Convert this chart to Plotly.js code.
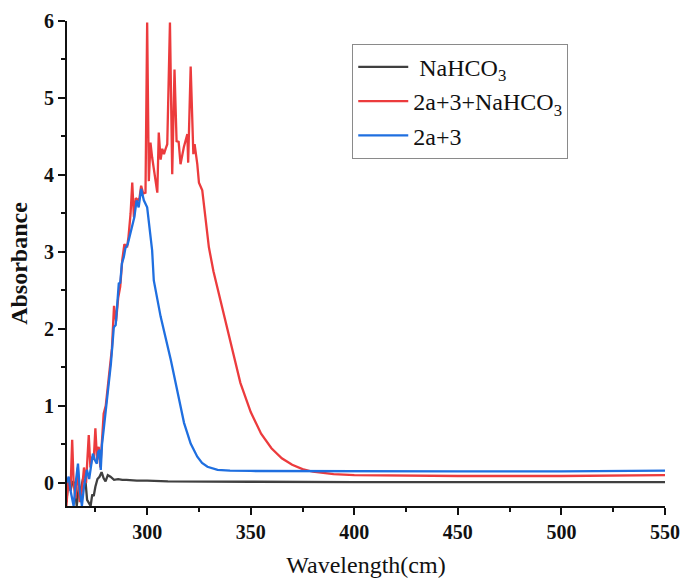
<!DOCTYPE html>
<html>
<head>
<meta charset="utf-8">
<script src="https://cdn.plot.ly/plotly-3.0.1.min.js"></script>
<style>html,body{margin:0;padding:0;background:#fff;}#chart{width:681px;height:578px;}</style>
</head>
<body>
<div id="chart"></div>
<script>
// NaHCO3
const wlBlack = [261,262,263,264,264.8,266,267,268,269,270.3,271,272.7,273.5,274.2,275,276,277,278,279,279.9,281,282.3,284,286,288,290,295,300,310,320,350,400,450,500,550];
const absBlack = [-0.25,0.05,-0.1,0.02,0.0,-0.3,-0.05,-0.09,0.05,0.0,-0.22,-0.3,-0.15,-0.17,-0.05,0.05,0.08,0.14,0.06,0.02,0.1,0.08,0.04,0.05,0.04,0.04,0.03,0.03,0.02,0.02,0.015,0.01,0.01,0.01,0.01];

// 2a+3+NaHCO3
const wlRed = [261,262,263,263.8,264.5,265.4,266.5,267.5,268.5,269.5,270.5,271.8,272.6,273.4,274.2,275,275.8,276.6,277.4,278.2,279,280,281,282,283,284,285,286,287,288,289,290.3,291,292,292.8,293.6,294.5,295.5,296.3,297.1,298.1,299.2,300,300.8,301.6,302.4,303.5,304.9,305.6,306.5,307.3,308.1,308.9,309.7,311,312.1,313.2,314.2,315.2,316.1,317.7,319.4,319.8,321,322.3,322.9,324.2,325,326.6,328.2,329.8,332,335,338,341,345,350,355,360,365,370,375,380,390,400,450,500,550];
const absRed = [-0.3,0.05,-0.1,0.56,0.0,-0.2,0.2,-0.25,-0.1,0.2,0.0,0.62,0.2,0.34,0.3,0.71,0.3,0.47,0.2,0.55,0.9,1.0,1.25,1.5,1.75,2.3,2.1,2.4,2.55,2.9,3.1,3.06,3.2,3.5,3.9,3.45,3.7,3.67,3.7,3.86,3.76,3.77,5.98,3.92,4.42,4.23,4.0,3.77,4.55,4.2,4.34,4.27,4.34,4.4,5.98,4.01,5.37,4.44,4.43,4.14,4.36,4.53,4.16,5.41,4.27,4.4,4.14,3.9,3.8,3.45,3.06,2.75,2.42,2.07,1.72,1.3,0.92,0.64,0.45,0.32,0.235,0.18,0.145,0.115,0.1,0.09,0.09,0.1];

// 2a+3
const wlBlue = [261,262.1,263,264.5,265.5,266.6,267.5,268.5,269.5,270.9,272,273.8,274.7,275.7,276.3,277,277.6,278.2,279,280,281.5,282.5,283.9,284.8,285.5,286.3,287,287.8,288.7,289.5,290.6,291.5,292.8,293.8,294.9,295.9,297.1,298.4,300,301.3,302.4,303.2,306.5,311.4,314.6,317.8,321,324.2,326.5,329.1,334,340,350,400,450,500,550];
const absBlue = [0.0,0.08,-0.1,-0.3,0.0,0.25,-0.1,-0.3,-0.05,0.17,0.05,0.38,0.3,0.25,0.4,0.43,0.17,0.5,0.69,0.95,1.29,1.55,2.02,2.05,2.3,2.59,2.6,2.85,2.93,3.05,3.1,3.2,3.32,3.45,3.67,3.58,3.82,3.67,3.58,3.28,3.02,2.63,2.16,1.6,1.21,0.78,0.51,0.34,0.26,0.21,0.17,0.16,0.155,0.15,0.15,0.15,0.16];

const xTicks = [300,350,400,450,500,550];
const yTicks = [0,1,2,3,4,5,6];

const serif = 'Liberation Serif, Times New Roman, serif';

const traces = [
  {x: wlBlack, y: absBlack, name: '&nbsp;NaHCO<sub>3</sub>', mode: 'lines', line: {color: '#404040', width: 2.3}},
  {x: wlRed, y: absRed, name: '2a+3+NaHCO<sub>3</sub>', mode: 'lines', line: {color: '#ec3b3d', width: 2.3}},
  {x: wlBlue, y: absBlue, name: '2a+3', mode: 'lines', line: {color: '#1f6fe0', width: 2.3}}
];

const layout = {
  width: 681, height: 578,
  margin: {l: 67, r: 16, t: 21, b: 72},
  paper_bgcolor: '#fff', plot_bgcolor: '#fff',
  showlegend: true,
  legend: {
    x: 0.477, y: 0.953, xanchor: 'left', yanchor: 'top',
    bordercolor: '#8a8a8a', borderwidth: 1, bgcolor: '#fff',
    font: {family: serif, size: 24, color: '#111'},
    itemwidth: 50, traceorder: 'normal'
  },
  xaxis: {
    range: [261.3, 550], tickvals: xTicks, ticktext: xTicks.map(v => '<b>' + v + '</b>'),
    ticks: 'outside', ticklen: 7, tickwidth: 2, tickcolor: '#111',
    showline: true, linecolor: '#111', linewidth: 2, mirror: false,
    showgrid: false, zeroline: false,
    tickfont: {family: serif, size: 20, color: '#111', weight: 'bold'},
    minor: {dtick: 25, tick0: 0, ticks: 'outside', ticklen: 4, tickwidth: 2, tickcolor: '#111', showgrid: false},
    title: {text: 'Wavelength(cm)', font: {family: serif, size: 24, color: '#111'}, standoff: 15}
  },
  yaxis: {
    range: [-0.3, 6], tickvals: yTicks, ticktext: yTicks.map(v => '<b>' + v + '</b>'),
    ticks: 'outside', ticklen: 7, tickwidth: 2, tickcolor: '#111',
    showline: true, linecolor: '#111', linewidth: 2, mirror: false,
    showgrid: false, zeroline: false,
    tickfont: {family: serif, size: 20, color: '#111', weight: 'bold'},
    minor: {dtick: 0.5, tick0: 0, ticks: 'outside', ticklen: 4, tickwidth: 2, tickcolor: '#111', showgrid: false},
    title: {text: '<b>Absorbance</b>', font: {family: serif, size: 24, color: '#111'}, standoff: 10}
  }
};

Plotly.newPlot('chart', traces, layout, {displayModeBar: false, staticPlot: true});
</script>
</body>
</html>
